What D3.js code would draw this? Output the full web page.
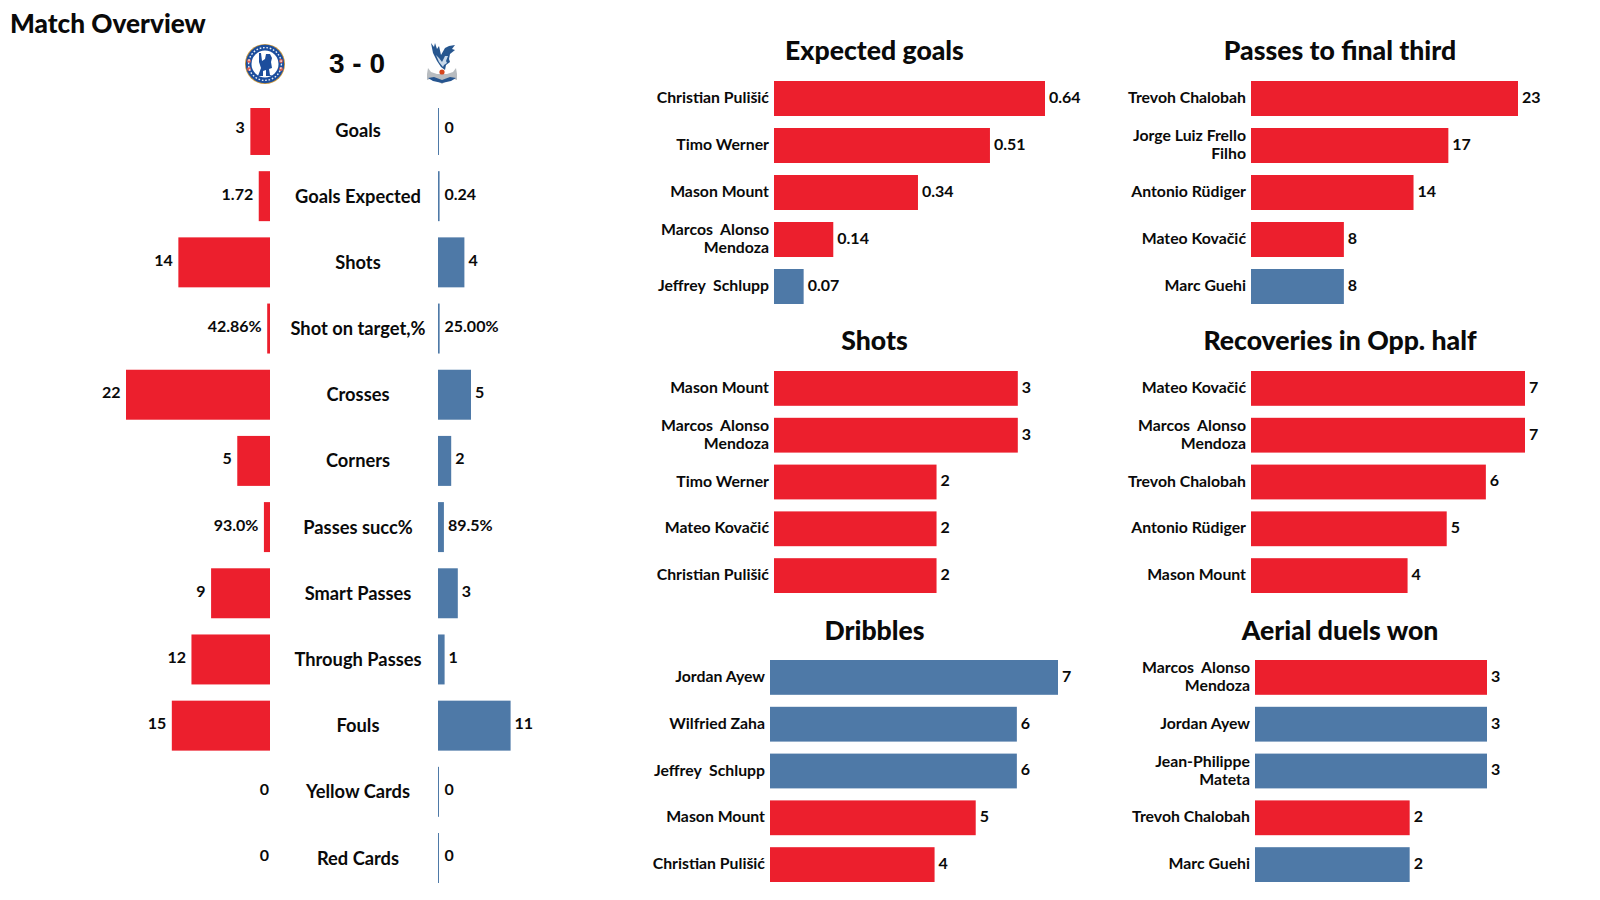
<!DOCTYPE html>
<html><head><meta charset="utf-8">
<script src="https://cdn.jsdelivr.net/npm/d3@7"></script>
<style>
html,body{margin:0;padding:0;background:#fff}
svg{display:block}
text{font-family:Lato,sans-serif;font-weight:700;fill:#0a0a0a;white-space:pre}
</style></head><body>
<svg id="c" width="1600" height="900"></svg>
<script>
const RED="#EC1F2D", BLUE="#4E79A7";
// overview
const statNames=["Goals","Goals Expected","Shots","Shot on target,%","Crosses","Corners","Passes succ%","Smart Passes","Through Passes","Fouls","Yellow Cards","Red Cards"];
const homeLabels=["3","1.72","14","42.86%","22","5","93.0%","9","12","15","0","0"];
const awayLabels=["0","0.24","4","25.00%","5","2","89.5%","3","1","11","0","0"];
const homeBars=[3,1.72,14,0.4286,22,5,0.93,9,12,15,0,0];
const awayBars=[0,0.24,4,0.25,5,2,0.895,3,1,11,0,0];
// player panels: h = home side, a = away side
const xgPlayers=["Christian Puli\u0161i\u0107","Timo Werner","Mason Mount","Marcos  Alonso\nMendoza","Jeffrey  Schlupp"];
const xgValues=[0.64,0.51,0.34,0.14,0.07];
const xgLabels=["0.64","0.51","0.34","0.14","0.07"];
const xgSides=["h","h","h","h","a"];
const passPlayers=["Trevoh Chalobah","Jorge Luiz Frello\nFilho","Antonio R\u00fcdiger","Mateo Kova\u010di\u0107","Marc Guehi"];
const passValues=[23,17,14,8,8];
const passSides=["h","h","h","h","a"];
const shotPlayers=["Mason Mount","Marcos  Alonso\nMendoza","Timo Werner","Mateo Kova\u010di\u0107","Christian Puli\u0161i\u0107"];
const shotValues=[3,3,2,2,2];
const shotSides=["h","h","h","h","h"];
const recPlayers=["Mateo Kova\u010di\u0107","Marcos  Alonso\nMendoza","Trevoh Chalobah","Antonio R\u00fcdiger","Mason Mount"];
const recValues=[7,7,6,5,4];
const recSides=["h","h","h","h","h"];
const dribPlayers=["Jordan Ayew","Wilfried Zaha","Jeffrey  Schlupp","Mason Mount","Christian Puli\u0161i\u0107"];
const dribValues=[7,6,6,5,4];
const dribSides=["a","a","a","h","h"];
const aerialPlayers=["Marcos  Alonso\nMendoza","Jordan Ayew","Jean-Philippe\nMateta","Trevoh Chalobah","Marc Guehi"];
const aerialValues=[3,3,3,2,2];
const aerialSides=["h","a","a","h","a"];

const svg=d3.select("#c");
const defs=svg.append("defs");
defs.append("clipPath").attr("id","rowclip").append("rect").attr("x",0).attr("y",108).attr("width",640).attr("height",792);
defs.append("filter").attr("id","soft").append("feGaussianBlur").attr("stdDeviation",0.45);

svg.append("text").attr("x",10).attr("y",33).attr("font-size",26.2).style("font-weight",900).text("Match Overview");
svg.append("text").attr("x",357).attr("y",73).attr("text-anchor","middle").attr("font-size",28)
  .style("font-family","'Liberation Sans'").style("font-weight",700).text("3 - 0");

// ---- overview rows
const rowY=d3.scaleBand().domain(statNames).range([105,883]).paddingInner(0.245).paddingOuter(0);
const xHome=d3.scaleLinear().domain([0,22]).range([270,126]);
const xAway=d3.scaleLinear().domain([0,11]).range([438,510.6]);
const rows=svg.append("g");
const marks=rows.append("g").attr("clip-path","url(#rowclip)");
statNames.forEach((s,i)=>{
  const y=rowY(s), h=rowY.bandwidth(), cy=y+h/2;
  if(homeBars[i]>0) marks.append("rect").attr("x",xHome(homeBars[i])).attr("y",y).attr("width",270-xHome(homeBars[i])).attr("height",h).attr("fill",RED);
  marks.append("rect").attr("x",438).attr("y",y).attr("width",Math.max(xAway(awayBars[i])-438,1)).attr("height",h).attr("fill",BLUE);
  const hx=homeBars[i]>0?xHome(homeBars[i])-5.5:269;
  rows.append("text").attr("x",hx).attr("y",cy-2).attr("dy",".34em").attr("text-anchor","end").attr("font-size",16).text(homeLabels[i]);
  rows.append("text").attr("x",Math.max(xAway(awayBars[i])+4,444.5)).attr("y",cy-2).attr("dy",".34em").attr("font-size",16).text(awayLabels[i]);
  rows.append("text").attr("x",358).attr("y",cy).attr("dy",".36em").attr("text-anchor","middle").attr("font-size",18.3).text(s);
});

// ---- crests
const ch=svg.append("g").attr("transform","translate(265,64)").attr("filter","url(#soft)");
ch.append("circle").attr("r",20).attr("fill","#c9973f");
ch.append("circle").attr("r",19.2).attr("fill","#1b4d9c");
ch.append("circle").attr("r",13.5).attr("fill","#fff");
[[-16,-3],[16,-3],[-16,5],[16,5]].forEach(p=>ch.append("circle").attr("cx",p[0]).attr("cy",p[1]).attr("r",1.9).attr("fill","#e5604f"));
ch.append("path").attr("fill","#1b4d9c").attr("d","M-6,-11 L-4,-11 L-3,-3 L0,-5 L1,-10 L5,-10 L7,-6 L6,-2 L7,4 L4,5 L5,11 L8,12 L1,12 L1,6 L-2,7 L-2,12 L-7,12 L-4,4 L-6,-2 Z");
ch.append("circle").attr("r",16.4).attr("fill","none").attr("stroke","#e8eef7").attr("stroke-width",1.4).attr("stroke-dasharray","1.6 1.8");
const cp=svg.append("g").attr("transform","translate(442,64)").attr("filter","url(#soft)");
cp.append("path").attr("fill","#27568f").attr("d","M-11,-21 L-8,-17 L-7,-21 L-5,-15 L-3,-18 L-1,-9 L3,-16 L7,-18 L13,-19 L10,-15 L13,-14 L8,-10 L7,-5 L8,-2 L4,1 L3,6 L-1,3 L-5,-3 L-9,-11 Z");
cp.append("path").attr("fill","#c9d9ea").attr("d","M-6,-9 L-3,-6 L0,-2 L3,-8 L6,-8 L4,-3 L5,-1 L2,1 L1,3 L-3,-2 Z");
cp.append("path").attr("fill","#b8bcc0").attr("d","M-15,10 L-14,4 L-11,8 L-5,10 L5,10 L11,8 L14,4 L15,10 L15,16 L9,14 L0,20 L-9,14 L-15,16 Z");
cp.append("path").attr("fill","#27558f").attr("d","M-14,14 L-8,13 L0,16 L8,13 L14,14 L9,17 L0,19 L-9,17 Z");
cp.append("circle").attr("cx",0).attr("cy",8).attr("r",2.6).attr("fill","#d6451f");

// ---- player panels
function panel(title,titleX,titleY,names,vals,labels,sides,x0,x1,top,step){
  const g=svg.append("g");
  g.append("text").attr("x",titleX).attr("y",titleY+.7).attr("dy",".35em").attr("text-anchor","middle").attr("font-size",26.6).style("font-weight",900).text(title);
  const idx=d3.range(names.length), gap=12;
  const y=d3.scaleBand().domain(idx).range([top,top+step*names.length-gap]).paddingInner(gap/step).paddingOuter(0);
  const x=d3.scaleLinear().domain([0,d3.max(vals)]).range([x0,x1]);
  idx.forEach(i=>{
    const b=y(i),h=y.bandwidth(),cy=b+h/2;
    g.append("rect").attr("x",x0).attr("y",b).attr("width",x(vals[i])-x0).attr("height",h).attr("fill",sides[i]==="h"?RED:BLUE);
    g.append("text").attr("x",x(vals[i])+4).attr("y",cy-1).attr("dy",".34em").attr("font-size",16).text(labels[i]);
    const lines=names[i].split("\n");
    lines.forEach((l,k)=>{
      g.append("text").attr("x",x0-5).attr("y",cy-.7+(k-(lines.length-1)/2)*18).attr("dy",".34em").attr("text-anchor","end").attr("font-size",15.8).text(l);
    });
  });
}
const str=a=>a.map(String);
panel("Expected goals",874.5,50,xgPlayers,xgValues,xgLabels,xgSides,774,1045,81,47);
panel("Passes to final third",1340,50,passPlayers,passValues,str(passValues),passSides,1251,1518,81,47);
panel("Shots",874.5,340,shotPlayers,shotValues,str(shotValues),shotSides,774,1017.8,371,46.8);
panel("Recoveries in Opp. half",1340,340,recPlayers,recValues,str(recValues),recSides,1251,1525,371,46.8);
panel("Dribbles",874.5,629.5,dribPlayers,dribValues,str(dribValues),dribSides,770,1058,660,46.8);
panel("Aerial duels won",1340,629.5,aerialPlayers,aerialValues,str(aerialValues),aerialSides,1255,1487,660,46.8);
</script></body></html>
